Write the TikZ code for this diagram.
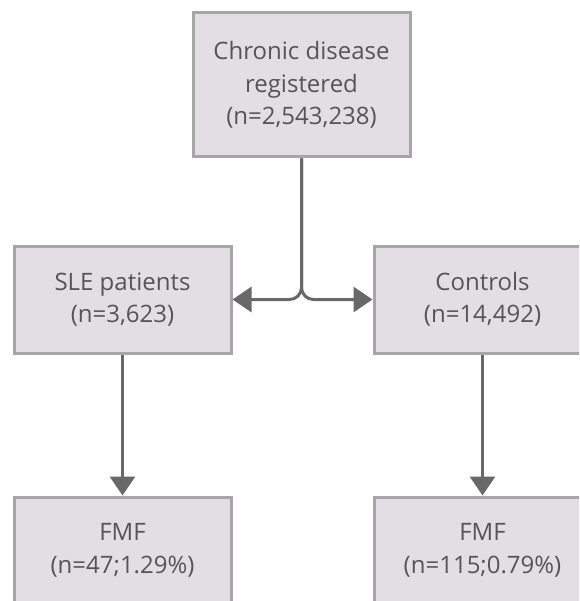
\documentclass[tikz,border=0pt]{standalone}
\usepackage{fontspec}
\setmainfont{Open Sans}
\usepackage{xcolor}
\usetikzlibrary{arrows.meta}

\definecolor{boxfill}{HTML}{E2DEE3}
\definecolor{boxline}{HTML}{A6A6A6}
\definecolor{arrowgray}{HTML}{686868}
\definecolor{textgray}{HTML}{555555}

\begin{document}
\begin{tikzpicture}[x=1pt,y=-1pt,
		groupbox/.style={draw=boxline, line width=3pt, fill=boxfill, text=textgray,
			align=center, inner sep=0pt, minimum width=217pt, minimum height=107pt,
			font=\fontsize{24}{32.5}\selectfont},
		flowarrow/.style={draw=arrowgray, line width=3pt,
			-{Triangle[length=19pt,width=25pt]}}]
		% Fix the page
		\clip (0,0) rectangle (579,601);
		\useasboundingbox (0,0) rectangle (579,601);

		% Boxes
		\node[groupbox, minimum height=144pt] (registry) at (301.5,85) {Chronic disease\\registered\\(n=2,543,238)};
		\node[groupbox] (sle) at (122.5,299.5) {SLE patients\\(n=3,623)};
		\node[groupbox] (controls) at (482.5,299.5) {Controls\\(n=14,492)};
		\node[groupbox] (fmfsle) at (122.5,550.5) {FMF\\(n=47;1.29\%)};
		\node[groupbox] (fmfcontrols) at (482.5,550.5) {FMF\\(n=115;0.79\%)};

		% Split into the two groups
		\draw[flowarrow, rounded corners=12pt] (registry.south) |- (sle.east);
		\draw[flowarrow, rounded corners=12pt] (registry.south) |- (controls.west);

		% FMF in each group
		\draw[flowarrow] (sle.south) -- (fmfsle.north);
		\draw[flowarrow] (controls.south) -- (fmfcontrols.north);
	\end{tikzpicture}
\end{document}
